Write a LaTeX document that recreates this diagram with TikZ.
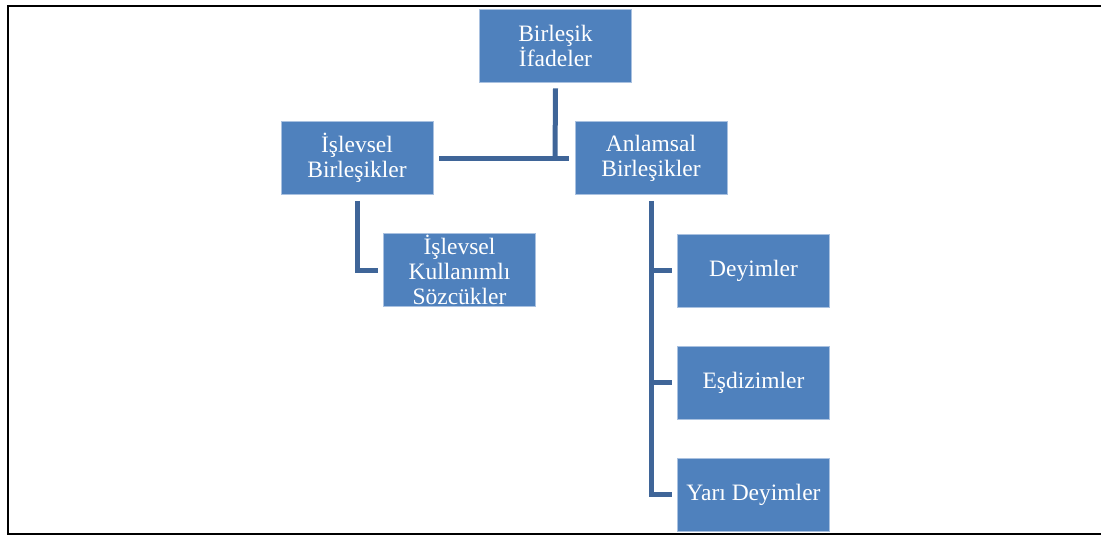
\documentclass[tikz,border=0pt]{standalone}
\usepackage{fontspec}
\setmainfont{Liberation Serif}
\definecolor{boxblue}{HTML}{4F81BD}
\definecolor{boxedge}{HTML}{A9C1E0}
\definecolor{linkblue}{HTML}{3F6598}
\begin{document}
\begin{tikzpicture}[x=1pt,y=-1pt,
  box/.style={draw=boxedge,line width=0.8pt,fill=boxblue,text=white,
    minimum width=152pt,minimum height=73pt,inner sep=0pt,align=center,
    font=\fontsize{23.5}{25}\selectfont},
  link/.style={draw=linkblue,line width=5pt}]
\useasboundingbox (0,0) rectangle (1101,536);
% outer frame, open on the right
\draw[line width=2pt] (1101,6) -- (8,6) -- (8,534) -- (1101,534);
% boxes
\node[box] (root) at (555.5,45.5) {Birleşik\\İfadeler};
\node[box] (func) at (357,158) {İşlevsel\\Birleşikler};
\node[box] (sem)  at (651,158) {Anlamsal\\Birleşikler};
\node[box] (word) at (459.5,270) {İşlevsel\\Kullanımlı\\Sözcükler};
\node[box] (idiom) at (753.5,270.5) {Deyimler};
\node[box] (coll)  at (753.5,382.5) {Eşdizimler};
\node[box] (semi)  at (753.5,494.5) {Yarı Deyimler};
% connectors
\coordinate (j) at (555,160.5);
\draw[link] ([yshift=-6pt]root.south) -- (j);
\draw[link] ([xshift=6pt]func.east) -- ([xshift=-6pt]sem.west);
\draw[link] ([yshift=-6pt]func.south) |- ([xshift=-5pt]word.west);
\draw[link] ([yshift=-6pt]sem.south) |- ([xshift=-5pt]semi.west);
\draw[link] ([xshift=-25pt]idiom.west) -- ([xshift=-5pt]idiom.west);
\draw[link] ([xshift=-25pt]coll.west) -- ([xshift=-5pt]coll.west);
\end{tikzpicture}
\end{document}
